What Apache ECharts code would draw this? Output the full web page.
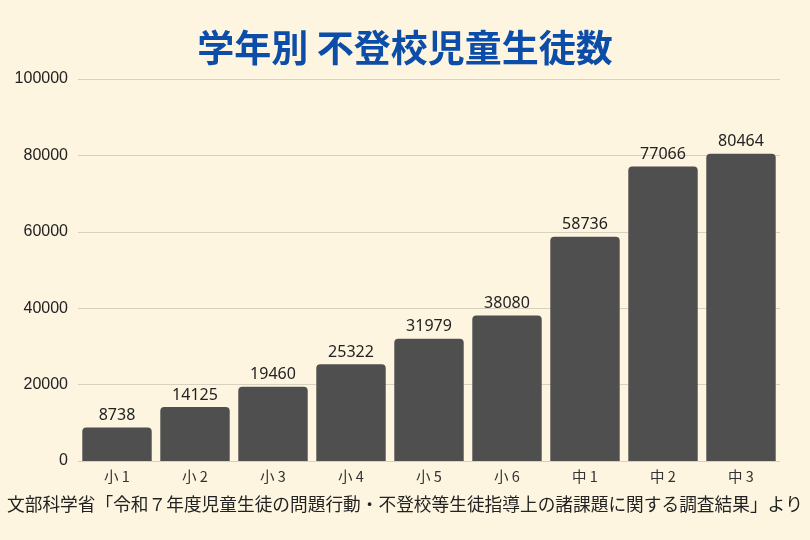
<!DOCTYPE html>
<html>
<head>
<meta charset="utf-8">
<script src="https://cdn.jsdelivr.net/npm/echarts@6/dist/echarts.min.js"></script>
<style>
  html, body { margin: 0; padding: 0; background: #FDF5E0; }
  #chart { width: 810px; height: 540px; }
</style>
</head>
<body>
<div id="chart"></div>
<script>
var grades = ['小 1', '小 2', '小 3', '小 4', '小 5', '小 6', '中 1', '中 2', '中 3'];
var counts = [8738, 14125, 19460, 25322, 31979, 38080, 58736, 77066, 80464];
var titleText = '学年別 不登校児童生徒数';
var sourceText = '文部科学省「令和７年度児童生徒の問題行動・不登校等生徒指導上の諸課題に関する調査結果」より';

var chart = echarts.init(document.getElementById('chart'));
chart.setOption({
  backgroundColor: '#FDF5E0',
  textStyle: { fontFamily: '"Noto Sans CJK JP", "Noto Sans", sans-serif' },
  title: [{
    text: titleText,
    left: 'center',
    top: 24,
    textStyle: { color: '#0C4DAA', fontSize: 37, fontWeight: 'bold' }
  }, {
    text: sourceText,
    left: 2,
    top: 490,
    textStyle: { color: '#222', fontSize: 17.7, fontWeight: 'normal' }
  }],
  grid: {
    left: 78,
    right: 30,
    top: 79,
    bottom: 79
  },
  xAxis: {
    type: 'category',
    data: grades,
    axisLine: { show: false },
    axisTick: { show: false },
    axisLabel: { color: '#333', fontSize: 14.5, margin: 8 }
  },
  yAxis: {
    type: 'value',
    min: 0,
    max: 100000,
    interval: 20000,
    axisLabel: {
      color: '#222',
      fontSize: 16,
      margin: 10,
      fontFamily: '"Liberation Sans", Arial, sans-serif',
      formatter: function (v) { return String(v); }
    },
    splitLine: { lineStyle: { color: '#D8D1BF', width: 1 } }
  },
  series: [{
    type: 'bar',
    data: counts,
    barCategoryGap: '11%',
    itemStyle: { color: '#4F4F4F', borderRadius: [4, 4, 0, 0] },
    label: {
      show: true,
      position: 'top',
      distance: 4,
      color: '#222',
      fontSize: 16,
      fontFamily: '"Noto Sans", sans-serif'
    }
  }]
});
</script>
</body>
</html>
